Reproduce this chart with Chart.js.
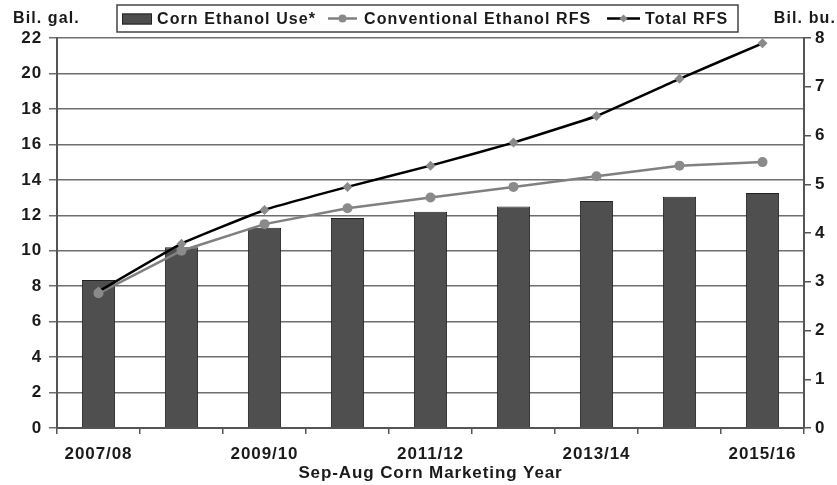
<!DOCTYPE html>
<html>
<head>
<meta charset="utf-8">
<script src="https://cdn.jsdelivr.net/npm/chart.js@4.4.1/dist/chart.umd.min.js"></script>
<style>
html,body{margin:0;padding:0;background:#fff;}
#wrap{width:837px;height:485px;position:relative;}
</style>
</head>
<body>
<div id="wrap"><canvas id="c" width="837" height="485"></canvas></div>
<script>
const categories = ['2007/08','2008/09','2009/10','2010/11','2011/12','2012/13','2013/14','2014/15','2015/16'];
const cornEthanolUse = [8.35, 10.2, 11.3, 11.85, 12.2, 12.5, 12.8, 13.05, 13.25];
const conventionalRFS = [7.6, 10.0, 11.5, 12.4, 13.0, 13.6, 14.2, 14.8, 15.0];
const totalRFS = [7.7, 10.4, 12.3, 13.6, 14.8, 16.1, 17.6, 19.7, 21.7];
const leftTicks = {min: 0, max: 22, step: 2};
const rightTicks = {min: 0, max: 8, step: 1};
const seriesNames = ['Corn Ethanol Use*', 'Conventional Ethanol RFS', 'Total RFS'];
const leftUnit = 'Bil. gal.';
const rightUnit = 'Bil. bu.';
const xTitle = 'Sep-Aug Corn Marketing Year';

const FAM = "'Liberation Sans', Arial, sans-serif";
const font = {family: FAM, size: 17, weight: 'bold'};
const TXT = '#1a1a1a';
const GRID = '#6e6e6e';
const AX = '#555';
const SPACING = '0.9px';

const spacingPlugin = {
  id: 'spacing',
  beforeUpdate(chart){ chart.ctx.letterSpacing = SPACING; },
  beforeLayout(chart){ chart.ctx.letterSpacing = SPACING; },
  beforeDraw(chart){
    const ctx = chart.ctx;
    ctx.letterSpacing = SPACING;
    ctx.save();
    ctx.fillStyle = '#fff';
    ctx.fillRect(0,0,chart.width,chart.height);
    ctx.restore();
  }
};

const decorPlugin = {
  id: 'decor',
  afterDraw(chart){
    const ctx = chart.ctx;
    ctx.save();
    ctx.letterSpacing = '1.1px';
    ctx.font = `bold 16px ${FAM}`;
    ctx.fillStyle = TXT;
    ctx.textBaseline = 'middle';
    ctx.textAlign = 'left';
    ctx.fillText(leftUnit, 13, 19);
    ctx.textAlign = 'right';
    ctx.fillText(rightUnit, 836, 19);

    // legend box
    const bx = 117, by = 5, bw = 621, bh = 27;
    ctx.strokeStyle = '#444';
    ctx.lineWidth = 1.5;
    ctx.fillStyle = '#fff';
    ctx.fillRect(bx, by, bw, bh);
    ctx.strokeRect(bx, by, bw, bh);
    const cy = by + bh/2;
    // bar swatch
    ctx.fillStyle = '#4d4d4d';
    ctx.strokeStyle = '#222';
    ctx.lineWidth = 1;
    ctx.fillRect(122, cy-5, 30, 11);
    ctx.strokeRect(122.5, cy-4.5, 29, 10);
    ctx.fillStyle = TXT;
    ctx.textAlign = 'left';
    ctx.fillText(seriesNames[0], 157, cy+1);
    // conventional swatch
    ctx.strokeStyle = '#808080';
    ctx.lineWidth = 2.5;
    ctx.beginPath(); ctx.moveTo(328, cy); ctx.lineTo(357, cy); ctx.stroke();
    ctx.fillStyle = '#8a8a8a';
    ctx.beginPath(); ctx.arc(342.5, cy, 4, 0, Math.PI*2); ctx.fill();
    ctx.fillStyle = TXT;
    ctx.fillText(seriesNames[1], 364, cy+1);
    // total swatch
    ctx.strokeStyle = '#000';
    ctx.lineWidth = 2.5;
    ctx.beginPath(); ctx.moveTo(607, cy); ctx.lineTo(640, cy); ctx.stroke();
    ctx.fillStyle = '#8a8a8a';
    ctx.beginPath();
    ctx.moveTo(623.5, cy-4); ctx.lineTo(627.5, cy); ctx.lineTo(623.5, cy+4); ctx.lineTo(619.5, cy); ctx.closePath(); ctx.fill();
    ctx.fillStyle = TXT;
    ctx.fillText(seriesNames[2], 645, cy+1);
    ctx.restore();
  }
};

new Chart(document.getElementById('c'), {
  data: {
    labels: categories,
    datasets: [
      {
        type: 'line', label: seriesNames[2], data: totalRFS, yAxisID: 'y', order: 1,
        borderColor: '#000', borderWidth: 2.5, tension: 0.1,
        pointStyle: 'rectRot', pointRadius: 5, pointBackgroundColor: '#8a8a8a', pointBorderColor: '#8a8a8a', pointBorderWidth: 0
      },
      {
        type: 'line', label: seriesNames[1], data: conventionalRFS, yAxisID: 'y', order: 2,
        borderColor: '#808080', borderWidth: 2.5, tension: 0,
        pointStyle: 'circle', pointRadius: 5, pointBackgroundColor: '#8a8a8a', pointBorderColor: '#8a8a8a', pointBorderWidth: 0
      },
      {
        type: 'bar', label: seriesNames[0], data: cornEthanolUse, yAxisID: 'y', order: 3,
        backgroundColor: '#4f4f4f', borderColor: '#222', borderWidth: 1,
        barPercentage: 0.4, categoryPercentage: 1.0
      }
    ]
  },
  plugins: [spacingPlugin, decorPlugin],
  options: {
    responsive: false,
    animation: false,
    layout: {padding: {top: 38, left: 0, right: 0, bottom: 0}},
    plugins: {legend: {display: false}, tooltip: {enabled: false}},
    scales: {
      x: {
        type: 'category',
        offset: true,
        grid: {offset: true, drawOnChartArea: false, drawTicks: true, tickLength: 6, color: AX, lineWidth: 1.5},
        border: {color: AX, width: 2},
        ticks: {autoSkip: false, maxRotation: 0, minRotation: 0, padding: 10, color: TXT, font: font,
          callback: (v, i) => (i % 2 === 0 ? categories[i] : '')},
        title: {display: true, text: xTitle, color: TXT, font: font, padding: {top: 2, bottom: 1}},
        afterFit: s => { s.height = 57; }
      },
      y: {
        position: 'left',
        min: leftTicks.min, max: leftTicks.max,
        grid: {color: GRID, lineWidth: 1.5, tickLength: 8},
        border: {color: AX, width: 2},
        ticks: {stepSize: leftTicks.step, padding: 7, color: TXT, font: font},
        afterFit: s => { s.width = 57; }
      },
      y2: {
        position: 'right',
        min: rightTicks.min, max: rightTicks.max,
        grid: {drawOnChartArea: false, color: AX, lineWidth: 1.5, tickLength: 7},
        border: {color: AX, width: 2},
        ticks: {stepSize: rightTicks.step, padding: 4, color: TXT, font: font},
        afterFit: s => { s.width = 33; }
      }
    }
  }
});
</script>
</body>
</html>
